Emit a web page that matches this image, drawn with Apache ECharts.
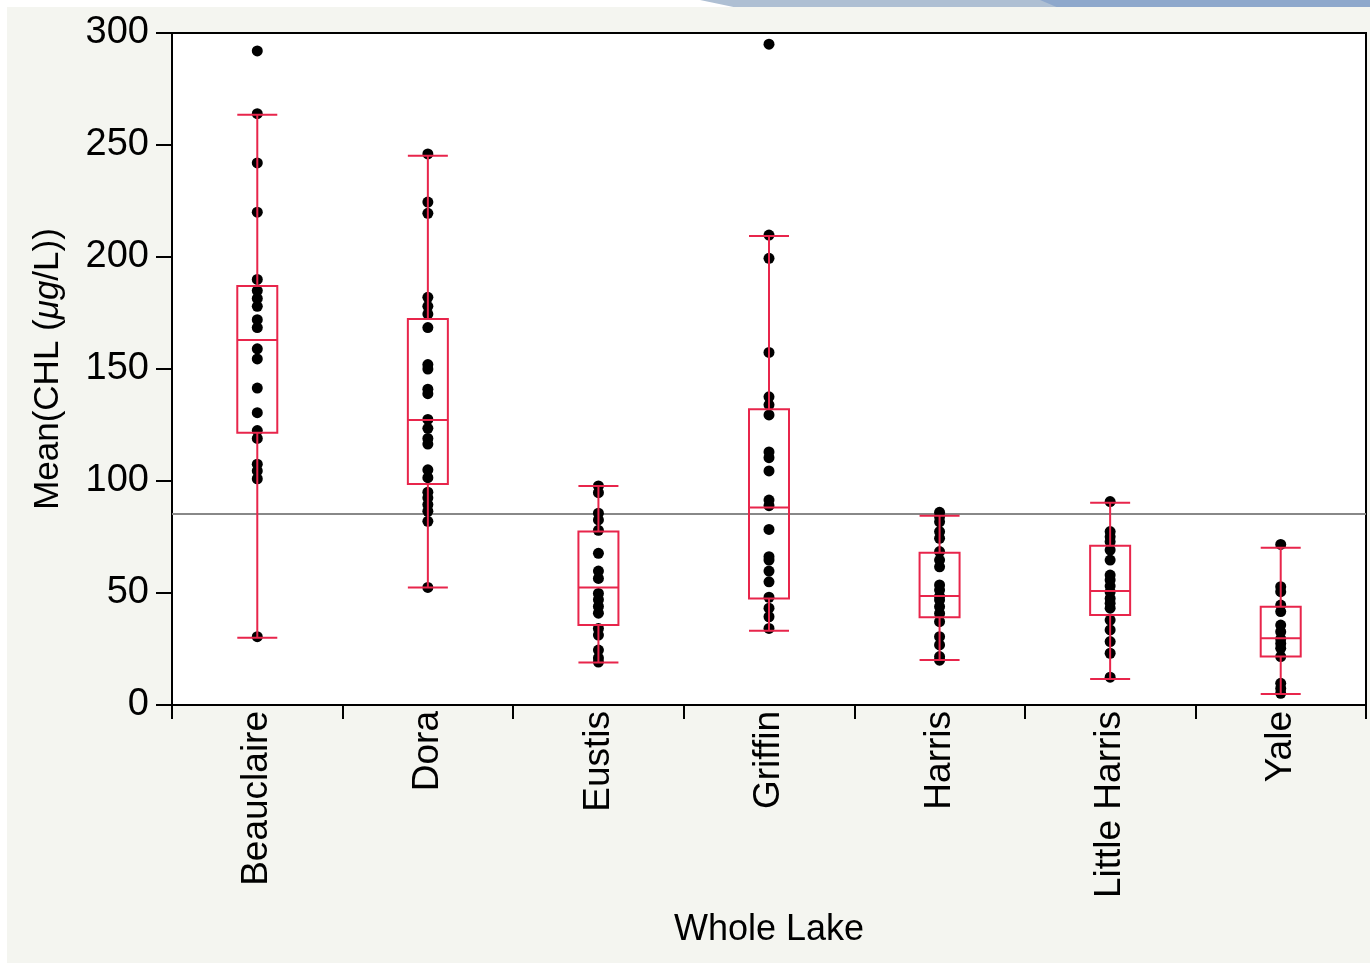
<!DOCTYPE html>
<html>
<head>
<meta charset="utf-8">
<script src="https://cdn.jsdelivr.net/npm/echarts@6/dist/echarts.min.js"></script>
<style>
html,body{margin:0;padding:0;background:#ffffff;}
#bg{position:absolute;left:7px;top:7px;width:1363px;height:956px;background:#f4f5f0;}
#deco{position:absolute;left:700px;top:0;width:670px;height:7px;background:#aebfd3;clip-path:polygon(0 0,100% 0,100% 100%,5% 100%);}
#deco2{position:absolute;left:1040px;top:0;width:330px;height:7px;background:#8ea8cc;clip-path:polygon(0 0,100% 0,100% 100%,5% 100%);}
#chart{position:absolute;left:0;top:0;width:1370px;height:965px;}
</style>
</head>
<body>
<div id="bg"></div>
<div id="deco"></div>
<div id="deco2"></div>
<div id="chart"></div>
<script>
const categories = ['Beauclaire','Dora','Eustis','Griffin','Harris','Little Harris','Yale'];
const yTicks = [0, 50, 100, 150, 200, 250, 300];
// [min whisker, Q1, median, Q3, max whisker]
const boxBeauclaire   = [30, 121.5, 163, 187, 263.5];
const boxDora         = [52.5, 98.7, 127.2, 172.3, 245.2];
const boxEustis       = [19, 35.7, 52.4, 77.4, 97.8];
const boxGriffin      = [33.2, 47.6, 88.2, 132, 209.4];
const boxHarris       = [20.1, 39.2, 48.7, 68, 84.5];
const boxLittleHarris = [11.6, 40.2, 50.9, 71.1, 90.3];
const boxYale         = [4.9, 21.6, 29.8, 43.9, 70.2];

const ptsBeauclaire   = [292, 264, 242, 220, 190, 185, 181.5, 178, 172, 168.5, 159, 154.5, 141.5, 130.5, 122.5, 119, 107.5, 104.5, 101, 30.5];
const ptsDora         = [246, 224.5, 219.5, 182, 178, 174.5, 168.5, 152, 150, 141, 139, 127.5, 123.5, 119, 116.5, 105, 101.5, 95, 92.5, 89.5, 86.5, 82, 52.5];
const ptsEustis       = [97.8, 94.8, 85.6, 82.6, 78, 67.7, 59.8, 56.5, 49.8, 47, 44, 41, 34.2, 31.2, 24.5, 21, 19.2];
const ptsGriffin      = [295, 209.8, 199.4, 157.4, 137.6, 134, 129.5, 113, 110.4, 104.5, 91.5, 89, 78.4, 66.2, 64.7, 59.8, 55, 48.1, 43.2, 39.4, 34.2];
const ptsHarris       = [86, 84, 81.8, 77.4, 74.4, 68.5, 64.7, 61.7, 53.6, 51.3, 48.5, 46.9, 43.9, 40.9, 37.2, 30.5, 26.8, 21.6, 20];
const ptsLittleHarris = [90.8, 77.4, 75.1, 72.9, 69.2, 64.7, 58, 55.8, 53.1, 50.5, 47.6, 45.4, 43.2, 37.9, 33.5, 28.3, 23.1, 12.4];
const ptsYale         = [71.7, 52.8, 50.6, 44.6, 41.7, 35.7, 32.7, 29.5, 27.5, 25.3, 21.6, 9.7, 7.4, 5.2];

const grandMean = 85.6;

const boxes = [boxBeauclaire, boxDora, boxEustis, boxGriffin, boxHarris, boxLittleHarris, boxYale];
const pts = [ptsBeauclaire, ptsDora, ptsEustis, ptsGriffin, ptsHarris, ptsLittleHarris, ptsYale];
const scatterData = [];
pts.forEach((arr, i) => arr.forEach(v => scatterData.push([categories[i], v])));

const FONT = '"Liberation Sans", Arial, Helvetica, sans-serif';
const RED = '#e8254b';

const chart = echarts.init(document.getElementById('chart'), null, {renderer: 'canvas'});
chart.setOption({
  backgroundColor: 'transparent',
  animation: false,
  grid: {left: 172, top: 33, right: 4, bottom: 260, show: true, backgroundColor: '#ffffff', borderColor: '#000000', borderWidth: 2},
  xAxis: {
    type: 'category',
    data: categories,
    boundaryGap: true,
    name: 'Whole Lake',
    nameLocation: 'middle',
    nameGap: 207,
    nameTextStyle: {fontFamily: FONT, fontSize: 36, color: '#000'},
    axisLine: {lineStyle: {color: '#000', width: 2}},
    axisTick: {show: true, alignWithLabel: false, length: 14, lineStyle: {color: '#000', width: 2}},
    axisLabel: {rotate: 90, fontFamily: FONT, fontSize: 37, color: '#000', margin: 6, interval: 0},
    splitLine: {show: false}
  },
  yAxis: {
    type: 'value',
    min: yTicks[0],
    max: yTicks[yTicks.length - 1],
    interval: 50,
    name: '{n|Mean(CHL (}{i|μg}{n|/L))}',
    nameLocation: 'middle',
    nameGap: 106,
    nameRotate: 90,
    nameTextStyle: {
      rich: {
        n: {fontFamily: FONT, fontSize: 35, color: '#000'},
        i: {fontFamily: FONT, fontSize: 35, color: '#000', fontStyle: 'italic'}
      }
    },
    axisLine: {show: true, lineStyle: {color: '#000', width: 2}},
    axisTick: {show: true, length: 16, lineStyle: {color: '#000', width: 2}},
    axisLabel: {fontFamily: FONT, fontSize: 38, color: '#000', margin: 23, padding: [6, 0, 0, 0]},
    splitLine: {show: false}
  },
  series: [
    {
      type: 'scatter',
      data: scatterData,
      symbol: 'circle',
      symbolSize: 11,
      itemStyle: {color: '#000', opacity: 1},
      z: 3,
      markLine: {
        silent: true,
        symbol: 'none',
        label: {show: false},
        lineStyle: {color: '#888888', width: 2, type: 'solid', opacity: 1},
        data: [{yAxis: grandMean}],
        z: 1
      }
    },
    {
      type: 'boxplot',
      data: boxes,
      boxWidth: [40, 40],
      itemStyle: {color: 'rgba(0,0,0,0)', borderColor: RED, borderWidth: 2},
      z: 4
    }
  ]
});
</script>
</body>
</html>
